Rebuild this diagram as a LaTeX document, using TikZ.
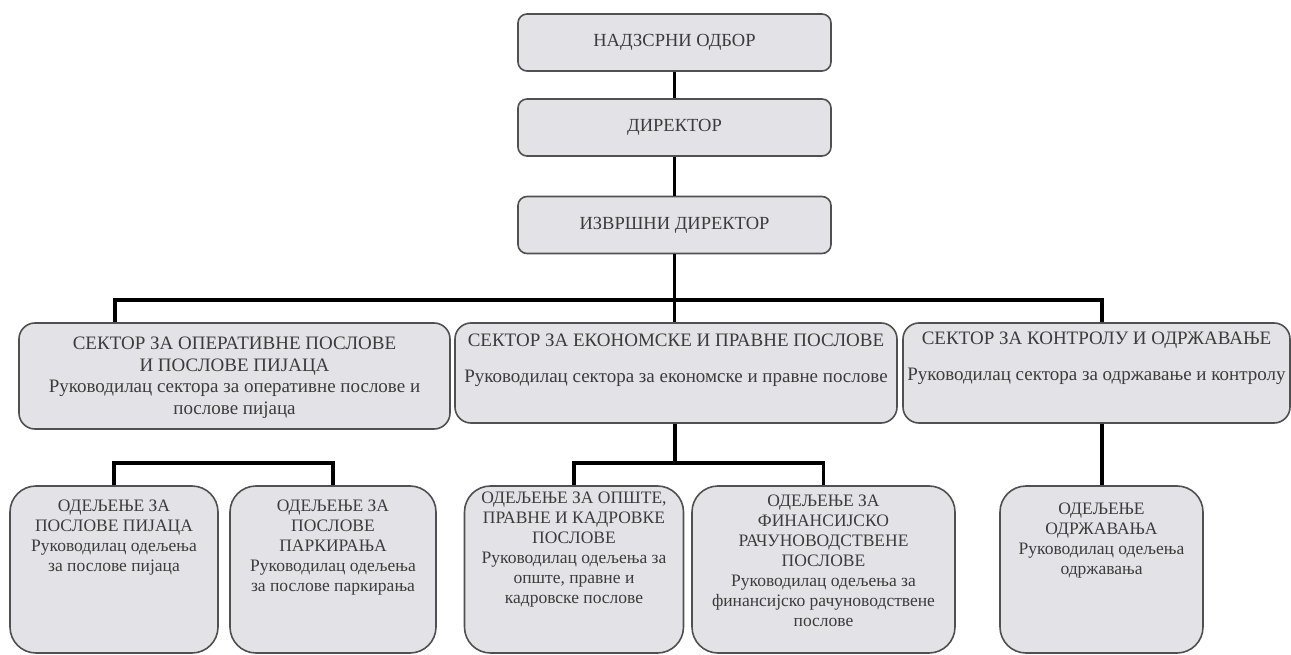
\documentclass[tikz,border=0pt]{standalone}
\usepackage{fontspec}
\setmainfont{Liberation Serif}
\usetikzlibrary{positioning}

\definecolor{boxfill}{HTML}{E3E3E7}
\definecolor{boxline}{HTML}{505050}
\definecolor{boxtext}{HTML}{3C3C3C}

\tikzset{
  box/.style={draw=boxline, line width=1.6pt, fill=boxfill, text=boxtext, inner sep=0pt},
  topbox/.style={box, rounded corners=9pt, minimum width=313pt, minimum height=57pt,
    font=\fontsize{18.5}{21}\selectfont},
  sektorbox/.style={box, rounded corners=16pt, minimum height=100pt},
  odbox/.style={box, rounded corners=26pt, minimum height=167pt},
  sektortxt/.style={text=boxtext, align=center, inner sep=0pt, font=\fontsize{19}{21.5}\selectfont},
  odtxt/.style={text=boxtext, align=center, inner sep=0pt, font=\fontsize{17.5}{20}\selectfont},
  veza/.style={draw=black, line width=3.6pt}
}

\begin{document}
\begin{tikzpicture}[x=1pt, y=-1pt]
    \useasboundingbox (0,0) rectangle (1291,655);

    % Uprava
    \node[topbox] (nadzor) at (674.5,42.5) {НАДЗСРНИ ОДБОР};
    \node[topbox] (direktor) at (674.5,127.5) {ДИРЕКТОР};
    \node[topbox] (izvrsni) at (674.5,225) {ИЗВРШНИ ДИРЕКТОР};

    % Sektori
    \node[sektorbox, minimum width=431pt, minimum height=106pt] (sekOp) at (234.5,376) {};
    \node[sektorbox, minimum width=442pt] (sekEk) at (676,373) {};
    \node[sektorbox, minimum width=387pt] (sekKon) at (1096.5,373) {};

    \node[sektortxt, below=15pt of sekOp.north] (sekOpT)
      {СЕКТОР ЗА ОПЕРАТИВНЕ ПОСЛОВЕ\\И ПОСЛОВЕ ПИЈАЦА\\Руководилац сектора за оперативне послове и\\послове пијаца};
    \node[sektortxt, below=12pt of sekEk.north] (sekEkT)
      {СЕКТОР ЗА ЕКОНОМСКЕ И ПРАВНЕ ПОСЛОВЕ\\[14pt]Руководилац сектора за економске и правне послове};
    \node[sektortxt, below=10pt of sekKon.north] (sekKonT)
      {СЕКТОР ЗА КОНТРОЛУ И ОДРЖАВАЊЕ\\[14pt]Руководилац сектора за одржавање и контролу};

    % Odeljenja
    \node[odbox, minimum width=208pt] (pijaca) at (114,569.5) {};
    \node[odbox, minimum width=206pt] (parking) at (333,569.5) {};
    \node[odbox, minimum width=219pt] (opste) at (574,569.5) {};
    \node[odbox, minimum width=263pt] (fin) at (823.5,569.5) {};
    \node[odbox, minimum width=203pt] (odrz) at (1101.5,569.5) {};

    \node[odtxt, below=15pt of pijaca.north] (pijacaT)
      {ОДЕЉЕЊЕ ЗА\\ПОСЛОВЕ ПИЈАЦА\\Руководилац одељења\\за послове пијаца};
    \node[odtxt, below=15pt of parking.north] (parkingT)
      {ОДЕЉЕЊЕ ЗА\\ПОСЛОВЕ\\ПАРКИРАЊА\\Руководилац одељења\\за послове паркирања};
    \node[odtxt, below=7pt of opste.north] (opsteT)
      {ОДЕЉЕЊЕ ЗА ОПШТЕ,\\ПРАВНЕ И КАДРОВКЕ\\ПОСЛОВЕ\\Руководилац одељења за\\опште, правне и\\кадровске послове};
    \node[odtxt, below=10pt of fin.north] (finT)
      {ОДЕЉЕЊЕ ЗА\\ФИНАНСИЈСКО\\РАЧУНОВОДСТВЕНЕ\\ПОСЛОВЕ\\Руководилац одељења  за\\финансијско рачуноводствене\\послове};
    \node[odtxt, below=18pt of odrz.north] (odrzT)
      {ОДЕЉЕЊЕ\\ОДРЖАВАЊА\\Руководилац одељења\\одржавања};

    % Veze
    \coordinate (busL) at (115,300);
    \coordinate (busR) at (1102,300);
    \coordinate (busM) at (675,463);

    \draw[veza] (nadzor) -- (direktor);
    \draw[veza] (direktor) -- (izvrsni);
    \draw[veza] (izvrsni.south) -- (izvrsni.south |- busL);
    \draw[veza] (sekOp.north -| busL) -- (busL) -- (busR) -- (sekKon.north -| busR);
    \draw[veza] (izvrsni.south |- busL) -- (sekEk.north -| izvrsni.south);

    \draw[veza] (pijaca.north) |- (parking.north |- busM) -- (parking.north);
    \draw[veza] (sekEk.south -| busM) -- (busM);
    \draw[veza] (opste.north) |- (busM) -| (fin.north);
    \draw[veza] (sekKon.south -| busR) -- (odrz.north -| busR);
\end{tikzpicture}
\end{document}
